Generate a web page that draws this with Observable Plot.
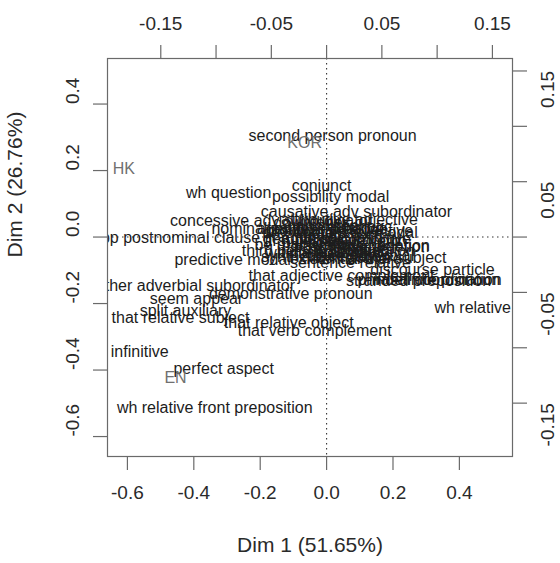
<!DOCTYPE html>
<html>
<head>
<meta charset="utf-8">
<script src="https://cdn.jsdelivr.net/npm/d3@7"></script>
<script src="https://cdn.jsdelivr.net/npm/@observablehq/plot@0.6"></script>
<style>
  html, body { margin: 0; padding: 0; background: #fff; }
  #chart { width: 560px; height: 563px; }
</style>
</head>
<body>
<div id="chart"></div>
<script>
// ---- Data ----
const rowLabels = [
  "second person pronoun", "wh question", "conjunct", "possibility modal",
  "causative adv subordinator", "concessive adv subordinator", "attributive adjective",
  "amplifier", "emphatic", "nominalization", "necessity modal", "pp postnominal clause",
  "gerund", "analytic negation", "third person pronoun", "predictive modal",
  "wh relative subject", "discourse particle", "phrasal coordination", "stranded preposition",
  "that adjective complement", "other adverbial subordinator", "demonstrative pronoun",
  "seem appear", "split auxiliary", "that relative subject", "that relative object",
  "that verb complement", "infinitive", "perfect aspect", "wh relative front preposition",
  "wh relative", "pronoun it", "private verb", "public verb", "suasive verb", "present tense",
  "past tense", "contraction", "be main verb", "existential there", "hedge", "downtoner",
  "time adverbial", "place adverbial", "first person pronoun", "agentless passive",
  "by passive", "adverb", "predicative adjective", "synthetic negation", "split infinitive",
  "sentence relative", "wh clause", "that deletion", "indefinite pronoun"
];
const rowDim1 = [
  0.018, -0.295, -0.015, 0.012,
  0.090, -0.166, 0.069,
  -0.003, 0.099, -0.193, 0.102, -0.440,
  -0.117, 0.130, -0.033, -0.283,
  0.163, 0.319, 0.310, 0.277,
  0.045, -0.395, -0.108,
  -0.392, -0.425, -0.440, -0.114,
  -0.036, -0.563, -0.310, -0.337,
  0.440, -0.078, 0.042, -0.018, 0.087, -0.048,
  0.012, 0.148, -0.078, 0.057, 0.117, -0.048,
  0.012, 0.102, 0.027, -0.018,
  0.072, -0.063, 0.042, -0.003, 0.117,
  0.072, -0.078, 0.178, 0.331
];
const rowDim2 = [
  0.305, 0.133, 0.154, 0.121,
  0.075, 0.048, 0.051,
  0.033, 0.030, 0.024, 0.012, -0.003,
  -0.006, -0.027, -0.042, -0.069,
  -0.063, -0.100, -0.130, -0.133,
  -0.118, -0.148, -0.172,
  -0.187, -0.223, -0.244, -0.259,
  -0.281, -0.344, -0.395, -0.513,
  -0.214, 0.018, 0.000, -0.018, -0.012, 0.012,
  -0.030, -0.042, -0.024, -0.066, 0.024, 0.042,
  -0.048, -0.057, -0.012, 0.024,
  -0.036, -0.006, 0.018, -0.060, -0.006,
  -0.078, -0.048, -0.030, -0.130
];
const colLabels = ["HK", "KOR", "EN"];
const colDim1 = [-0.611, -0.066, -0.455];
const colDim2 = [0.205, 0.284, -0.425];

const dim1Ticks = [-0.6, -0.4, -0.2, 0, 0.2, 0.4];
const dim2Ticks = [-0.6, -0.4, -0.2, 0, 0.2, 0.4];
const secTicks = [-0.15, -0.1, -0.05, 0, 0.05, 0.1, 0.15];
const secLabels = [-0.15, -0.05, 0.05, 0.15];
const xTitle = "Dim 1 (51.65%)";
const yTitle = "Dim 2 (26.76%)";
const RATIO = 3.33; // secondary (top/right) axis scale factor of the biplot

// ---- Tables ----
const rows = rowLabels.map((label, i) => ({label, x: rowDim1[i], y: rowDim2[i]}));
const cols = colLabels.map((label, i) => ({label, x: colDim1[i], y: colDim2[i]}));

const FONT = "'Liberation Sans', Arial, Helvetica, sans-serif";
const AX = "#6a6a6a";
const TXT = "#2a2a2a";

const chart = Plot.plot({
  width: 560,
  height: 563,
  marginLeft: 107,
  marginRight: 48,
  marginTop: 58,
  marginBottom: 107,
  x: {domain: [-0.66, 0.56]},
  y: {domain: [-0.66, 0.537]},
  style: {fontFamily: FONT, background: "#fff", overflow: "visible"},
  marks: [
    Plot.ruleX([0], {stroke: "#333", strokeDasharray: "1.5,3.5", strokeWidth: 1.1}),
    Plot.ruleY([0], {stroke: "#333", strokeDasharray: "1.5,3.5", strokeWidth: 1.1}),
    Plot.text(rows, {x: "x", y: "y", text: "label", fill: "#1c1c1c", fontSize: 16, clip: true}),
    Plot.text(cols, {x: "x", y: "y", text: "label", fill: "#707070", fontSize: 16, clip: true}),
    Plot.frame({stroke: AX, strokeWidth: 1.2}),
    // primary axes (bottom / left)
    Plot.axisX(dim1Ticks, {anchor: "bottom", tickSize: 14, stroke: AX, strokeWidth: 1.2, tickFormat: () => "", label: null}),
    Plot.axisY(dim2Ticks, {anchor: "left", tickSize: 14, stroke: AX, strokeWidth: 1.2, tickFormat: () => "", label: null}),
    Plot.text(dim1Ticks, {x: d => d, frameAnchor: "bottom", dy: 42, text: d => d.toFixed(1), fontSize: 19, fill: TXT}),
    Plot.text(dim2Ticks, {y: d => d, frameAnchor: "left", dx: -35, rotate: -90, text: d => d.toFixed(1), fontSize: 19, fill: TXT}),
    // secondary axes (top / right)
    Plot.axisX(secTicks.map(t => t * RATIO), {anchor: "top", tickSize: 14, stroke: AX, strokeWidth: 1.2, tickFormat: () => "", label: null}),
    Plot.axisY(secTicks.map(t => t * RATIO), {anchor: "right", tickSize: 14, stroke: AX, strokeWidth: 1.2, tickFormat: () => "", label: null}),
    Plot.text(secLabels, {x: d => d * RATIO, frameAnchor: "top", dy: -42, text: d => d.toFixed(2), fontSize: 19, fill: TXT}),
    Plot.text(secLabels, {y: d => d * RATIO, frameAnchor: "right", dx: 35, rotate: -90, text: d => d.toFixed(2), fontSize: 19, fill: TXT}),
    // axis titles
    Plot.text([xTitle], {frameAnchor: "bottom", dy: 95, text: d => d, fontSize: 21, fill: TXT}),
    Plot.text([yTitle], {frameAnchor: "left", dx: -92, rotate: -90, text: d => d, fontSize: 21, fill: TXT})
  ]
});
document.getElementById("chart").appendChild(chart);
</script>
</body>
</html>
